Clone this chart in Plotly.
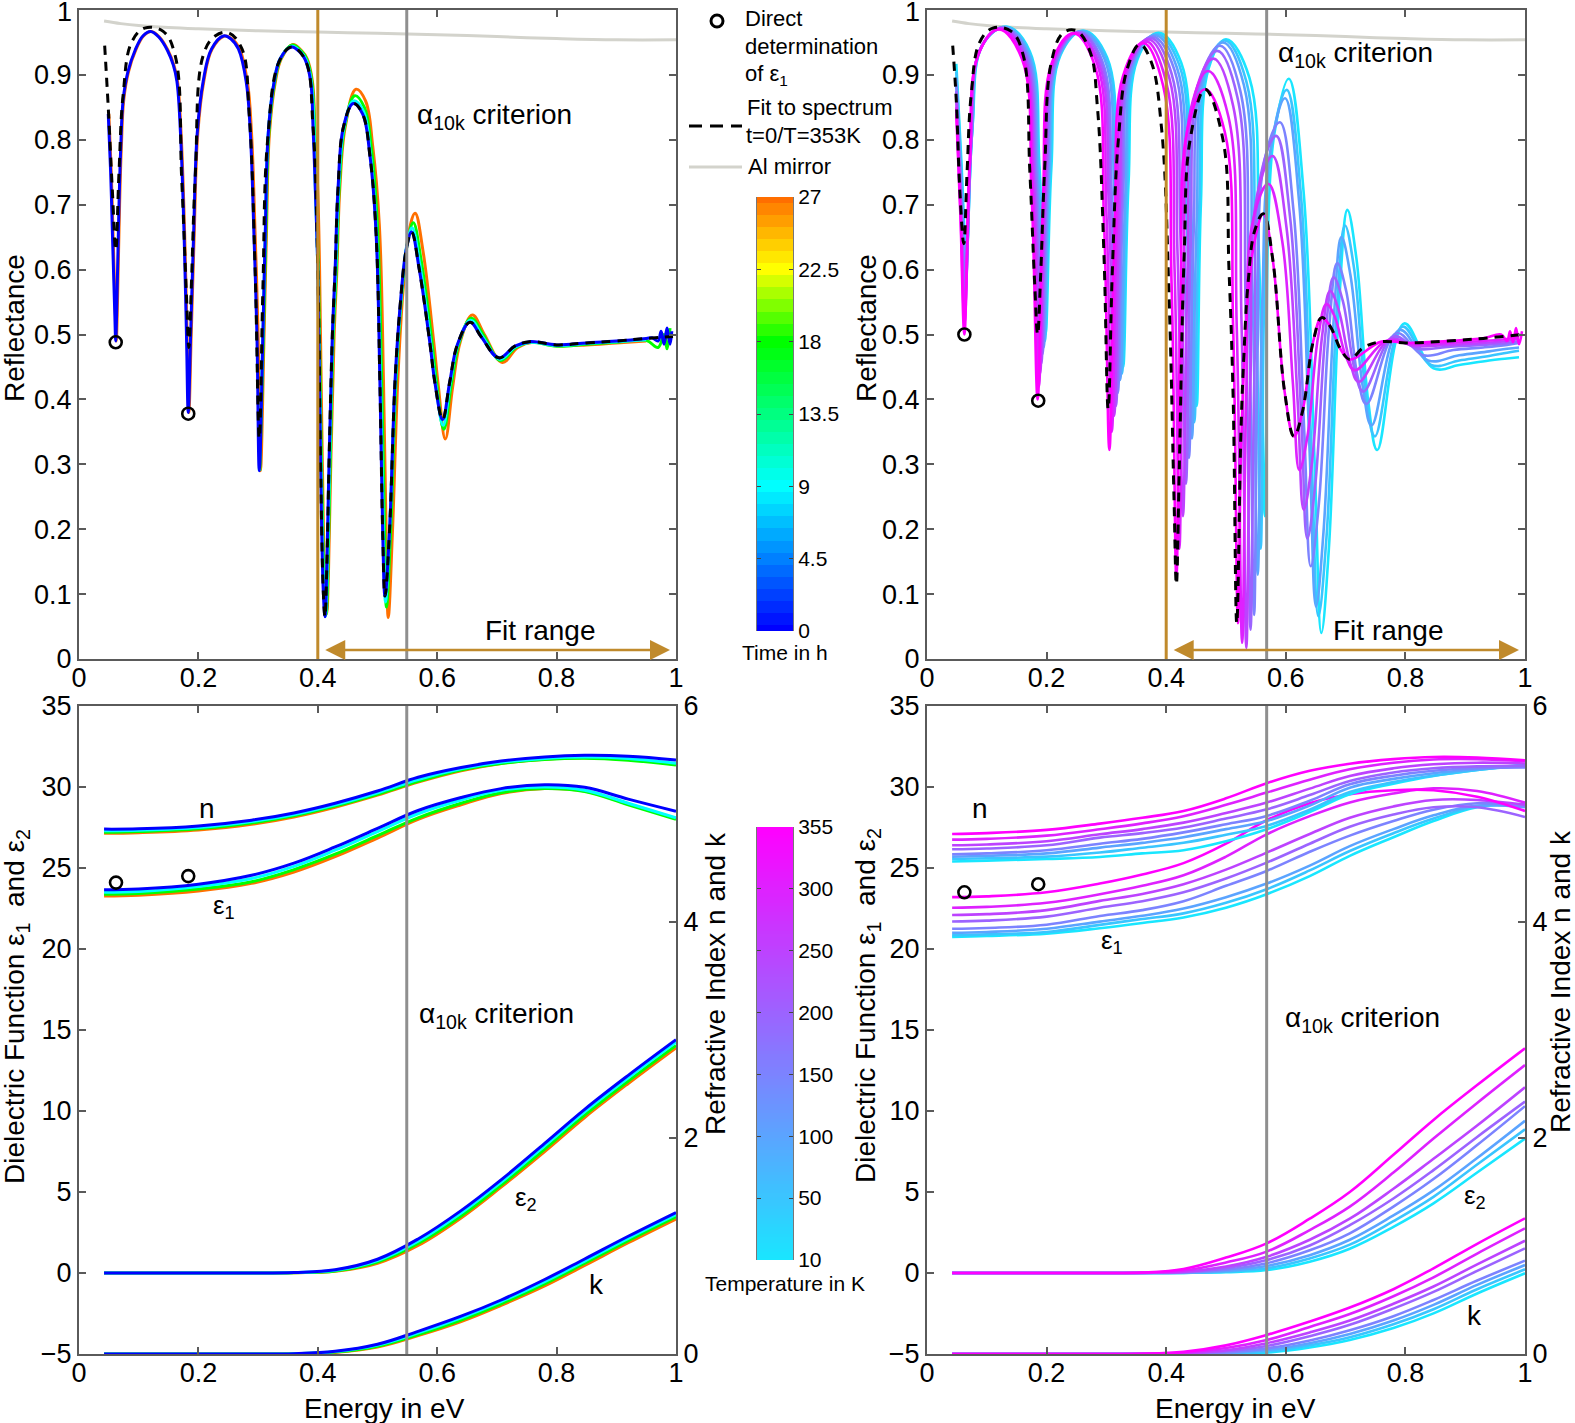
import plotly.graph_objects as go

W, H = 1575, 1423

# --- reflectance vs time (top left), energy in eV
rt_x_0 = [.049,.053,.056,.060,.0615,.063,.067,.070,.074,.082,.094,.107,.120,.134,.148,.158,.164,.170,.176,.180,
          .183,.187,.192,.198,.208,.222,.242,.255,.267,.28,.287,.293,.298,.302,.308,.312,.317,.327,.337,.356,
          .370,.379,.388,.392,.396,.400,.4045,.409,.412,.415,.419,.4244,.429,.434,.443,.4595,.475,.4875,.4975,.504,
          .5087,.5126,.52,.5293,.5377,.548,.557,.57,.588,.596,.609,.621,.634,.655,.674,.7035,.73,.755,.80,.85,
          .90,.95,.96,.97,.975,.98,.985,.99,.993]
rt_y_0 = [.84,.75,.655,.53,.49,.53,.70,.79,.862,.905,.938,.96,.967,.958,.938,.915,.89,.81,.655,.50,
          .38,.50,.655,.81,.89,.94,.96,.955,.94,.89,.81,.655,.50,.29,.50,.655,.81,.89,.925,.943,
          .935,.923,.89,.82,.72,.60,.311,.109,.065,.138,.311,.50,.60,.727,.82,.856,.84,.774,.658,.427,
          .195,.097,.195,.427,.542,.63,.658,.60,.485,.427,.369,.427,.485,.519,.496,.464,.482,.489,.484,.487,
          .49,.494,.495,.49,.505,.485,.51,.485,.505]
rt_x_9 = [.302,.308,.312,.317,.327,.337,.356,.371,.38,.389,.396,.4,.405,.41,.413,.416,.42,.425,.43,.435,
          .444,.46,.476,.488,.498,.505,.51,.5135,.52,.53,.539,.549,.558,.571,.589,.597,.61,.622,.635,.656,
          .675,.705,.731,.756,.80,.85,.90,.95]
rt_y_9 = [.29,.5,.655,.81,.89,.925,.944,.936,.924,.89,.72,.60,.31,.109,.066,.138,.311,.5,.6,.727,
          .82,.86,.845,.778,.66,.43,.19,.088,.195,.427,.548,.637,.664,.607,.487,.426,.36,.426,.486,.522,
          .498,.462,.481,.488,.483,.486,.489,.492]
rt_x_18 = [.303,.309,.313,.318,.328,.338,.357,.372,.381,.39,.397,.401,.406,.411,.414,.417,.421,.426,.431,.436,
           .445,.462,.478,.49,.50,.507,.512,.515,.522,.531,.54,.551,.560,.573,.591,.599,.611,.624,.637,.657,
           .677,.706,.732,.757,.80,.85,.90,.95,.97,.98,.985,.99]
rt_y_18 = [.29,.5,.655,.81,.89,.925,.946,.937,.925,.89,.72,.60,.31,.109,.068,.138,.311,.5,.6,.727,
           .82,.868,.85,.785,.665,.43,.19,.08,.195,.427,.555,.645,.672,.615,.49,.425,.354,.425,.488,.525,
           .50,.46,.48,.488,.482,.485,.488,.491,.48,.50,.478,.51]
rt_x_27 = [.05,.054,.057,.061,.0625,.064,.068,.071,.075,.083,.095,.108,.121,.135,.149,.159,.165,.171,.177,.181,
           .184,.188,.193,.199,.209,.223,.244,.257,.269,.282,.289,.295,.30,.304,.31,.314,.319,.329,.339,.358,
           .373,.382,.391,.395,.40,.403,.4075,.412,.415,.418,.422,.4274,.432,.437,.446,.464,.48,.492,.503,.51,
           .5147,.518,.525,.534,.543,.553,.563,.576,.594,.602,.6136,.626,.639,.659,.679,.709,.735,.76,.80,.85,
           .90,.95]
rt_y_27 = [.84,.75,.655,.53,.49,.53,.70,.79,.862,.905,.938,.96,.967,.958,.938,.915,.89,.81,.655,.50,
           .38,.50,.655,.81,.89,.94,.96,.955,.94,.89,.81,.655,.50,.29,.50,.655,.81,.89,.925,.947,
           .937,.925,.89,.82,.72,.60,.311,.109,.07,.138,.311,.50,.60,.727,.82,.878,.86,.79,.67,.43,
           .18,.064,.195,.43,.57,.66,.687,.63,.49,.42,.339,.42,.49,.53,.50,.457,.48,.488,.483,.484,
           .487,.49]
fit_x_left = [.043,.049,.056,.0615,.067,.074,.088,.11,.141,.161,.172,.180,.184,.188,.195,.208,.228,.25,.273,.285,
              .295,.302,.308,.316,.335,.356,.379,.392,.400,.4045,.409,.412,.415,.419,.4244,.429,.434,.443,.4595,.475,
              .4875,.4975,.504,.5087,.5126,.52,.5293,.5377,.548,.557,.57,.588,.596,.609,.621,.634,.655,.674,.7035,.73,
              .755,.80,.85,.90,.95,.995]
fit_y_left = [.945,.85,.72,.63,.75,.87,.95,.972,.967,.93,.74,.56,.48,.57,.75,.93,.96,.965,.94,.84,
              .6,.34,.57,.8,.92,.943,.923,.82,.6,.31,.109,.065,.138,.311,.5,.6,.727,.82,.856,.84,
              .774,.658,.427,.195,.097,.195,.427,.542,.63,.658,.60,.485,.427,.369,.427,.485,.519,.496,.464,.482,
              .489,.484,.487,.49,.494,.497]

# --- reflectance vs temperature (top right)
rT_x_355 = [.049,.056,.0625,.071,.0855,.120,.159,.175,.185,.194,.209,.245,.281,.296,.305,.314,.328,.362,.395,.409,.417,.424,.436,.465,.498,.512,.520,.526,.537,.548,.5624,.578,.598,.6137,.6276,.646,.66,.674,.693,.7074,.76,.80,.87,.93,.96,.97,.975,.98,.985,.99,.995]
rT_y_355 = [.84,.68,.50,.76,.93,.97,.924,.713,.40,.71,.919,.964,.913,.675,.322,.667,.899,.949,.883,.578,.125,.539,.818,.878,.812,.508,.055,.35,.56,.645,.686,.617,.412,.343,.38,.49,.526,.513,.475,.4615,.489,.487,.49,.494,.50,.49,.505,.488,.51,.485,.505]
rT_x_300 = [.049,.056,.063,.072,.087,.122,.161,.177,.187,.196,.211,.248,.285,.300,.309,.318,.332,.366,.400,.414,.422,.429,.441,.470,.504,.518,.527,.534,.545,.571,.594,.612,.6226,.636,.654,.668,.682,.701,.7157,.768,.81,.87,.93,.97,.99]
rT_y_300 = [.85,.69,.52,.768,.935,.971,.927,.723,.42,.72,.921,.965,.916,.688,.35,.681,.904,.952,.889,.60,.17,.575,.847,.906,.836,.51,.025,.414,.675,.732,.644,.423,.291,.342,.496,.547,.527,.465,.445,.49,.485,.487,.49,.493,.497]
rT_x_250 = [.049,.056,.0635,.0726,.088,.124,.163,.179,.189,.198,.213,.250,.288,.304,.313,.322,.336,.370,.405,.419,.428,.436,.448,.479,.512,.526,.534,.541,.552,.578,.601,.620,.63,.643,.661,.674,.688,.708,.722,.775,.815,.87,.93,.97,.99]
rT_y_250 = [.86,.71,.54,.778,.937,.972,.929,.733,.44,.729,.923,.965,.918,.70,.375,.694,.909,.955,.896,.624,.22,.608,.869,.925,.852,.516,.017,.434,.714,.775,.666,.394,.23,.297,.50,.567,.539,.455,.427,.493,.482,.484,.487,.49,.494]
rT_x_200 = [.049,.056,.064,.0733,.0888,.126,.165,.181,.191,.200,.216,.253,.291,.307,.316,.325,.339,.374,.409,.424,.433,.441,.454,.4855,.519,.533,.541,.548,.558,.584,.607,.626,.636,.649,.667,.68,.695,.715,.7296,.78,.82,.87,.93,.97,.99]
rT_y_200 = [.875,.725,.56,.787,.939,.972,.931,.739,.455,.736,.925,.966,.92,.707,.39,.702,.912,.957,.902,.648,.27,.637,.884,.937,.866,.536,.045,.464,.745,.806,.682,.372,.186,.266,.508,.588,.553,.447,.412,.497,.478,.481,.484,.487,.49]
rT_x_150 = [.049,.056,.0645,.074,.09,.128,.167,.183,.193,.202,.218,.255,.293,.309,.319,.328,.342,.377,.414,.429,.438,.446,.459,.490,.524,.538,.547,.553,.564,.59,.613,.631,.6416,.655,.673,.686,.701,.72,.735,.785,.83,.88,.93,.97,.99]
rT_y_150 = [.885,.74,.58,.796,.942,.973,.933,.747,.47,.743,.926,.966,.922,.716,.41,.712,.915,.959,.907,.667,.31,.659,.894,.945,.875,.55,.068,.485,.766,.827,.69,.348,.143,.236,.517,.61,.567,.436,.393,.502,.468,.476,.48,.484,.487]
rT_x_100 = [.049,.057,.065,.075,.091,.130,.169,.185,.195,.204,.22,.258,.297,.313,.323,.332,.346,.381,.418,.434,.443,.451,.464,.495,.530,.544,.553,.561,.572,.5987,.622,.640,.6505,.663,.681,.693,.708,.729,.7436,.79,.838,.89,.94,.97,.99]
rT_y_100 = [.895,.74,.60,.805,.943,.973,.934,.751,.48,.748,.928,.967,.924,.725,.43,.722,.919,.961,.911,.682,.34,.675,.901,.95,.884,.581,.13,.56,.77,.864,.707,.316,.081,.195,.536,.65,.592,.418,.36,.507,.46,.468,.474,.478,.48]
rT_x_50 = [.049,.057,.0655,.0755,.092,.132,.171,.187,.197,.206,.222,.260,.30,.316,.326,.335,.349,.384,.422,.438,.447,.455,.468,.498,.534,.549,.558,.565,.576,.6015,.6253,.6433,.6544,.668,.686,.699,.714,.734,.749,.795,.843,.89,.94,.97,.99]
rT_y_50 = [.905,.76,.615,.812,.945,.974,.935,.756,.49,.753,.93,.968,.926,.73,.44,.728,.921,.963,.915,.694,.365,.688,.906,.953,.89,.601,.17,.60,.79,.877,.715,.309,.066,.187,.548,.668,.603,.408,.343,.512,.453,.46,.467,.472,.475]
rT_x_10 = [.049,.057,.066,.076,.093,.133,.172,.188,.198,.208,.2235,.2615,.301,.318,.328,.337,.352,.387,.425,.441,.451,.458,.471,.50,.539,.555,.565,.571,.581,.605,.6295,.6485,.6594,.672,.690,.703,.718,.738,.753,.798,.847,.89,.94,.97,.99]
rT_y_10 = [.917,.775,.63,.819,.946,.974,.936,.761,.50,.757,.931,.968,.927,.735,.45,.733,.924,.965,.919,.706,.39,.701,.91,.955,.896,.624,.22,.68,.81,.894,.723,.296,.04,.17,.562,.692,.618,.396,.322,.517,.448,.453,.46,.463,.465]
fit_x_right = [.043,.049,.055,.0615,.067,.074,.088,.11,.141,.161,.172,.180,.185,.19,.197,.208,.228,.25,.273,.285,
               .296,.303,.31,.32,.335,.356,.375,.392,.405,.413,.417,.422,.43,.44,.465,.495,.505,.512,.518,.525,
               .53,.537,.548,.5624,.578,.598,.6137,.6276,.646,.66,.674,.693,.7074,.73,.76,.80,.87,.93,.995]
fit_y_right = [.945,.86,.72,.64,.75,.87,.95,.972,.967,.93,.75,.58,.50,.59,.76,.92,.965,.968,.935,.85,
               .62,.385,.60,.80,.91,.947,.92,.82,.55,.25,.115,.3,.62,.80,.878,.80,.6,.4,.055,.35,
               .47,.58,.66,.686,.617,.412,.343,.38,.49,.526,.513,.475,.4615,.48,.489,.487,.49,.494,.50]

al_x = [.042,.07,.1,.15,.2,.3,.4,.5,.6,.7,.8,.9,1.0]
al_y = [.983,.979,.976,.973,.971,.968,.966,.964,.962,.959,.956,.954,.954]

# --- optical constants, shared energy grid
opt_x = [.042,.1,.2,.289,.36,.429,.5,.568,.64,.707,.78,.847,.92,1.0]

n_t_0 = [4.86,4.863,4.89,4.943,5.01,5.10,5.213,5.34,5.43,5.49,5.528,5.543,5.535,5.50]
n_t_9 = [4.845,4.85,4.875,4.93,4.995,5.085,5.197,5.32,5.418,5.478,5.515,5.528,5.515,5.47]
n_t_18 = [4.83,4.838,4.863,4.917,4.983,5.073,5.183,5.303,5.408,5.468,5.505,5.517,5.498,5.453]
n_t_27 = [4.821,4.827,4.853,4.905,4.973,5.063,5.175,5.295,5.40,5.468,5.508,5.52,5.505,5.46]
e1_t_0 = [23.65,23.7,24.0,24.55,25.3,26.3,27.45,28.55,29.35,29.9,30.14,29.98,29.25,28.5]
e1_t_9 = [23.5,23.55,23.85,24.35,25.1,26.1,27.25,28.35,29.2,29.8,30.0,29.8,29.0,28.1]
e1_t_18 = [23.38,23.42,23.7,24.15,24.9,25.85,27.0,28.1,29.0,29.65,29.9,29.72,28.9,28.0]
e1_t_27 = [23.27,23.32,23.58,24.05,24.75,25.7,26.85,28.0,28.9,29.6,29.9,29.75,28.95,28.05]
e2_t_0 = [0,0,0,0,.03,.2,.85,2.1,3.85,5.75,8.0,10.1,12.2,14.4]
e2_t_9 = [0,0,0,0,.03,.17,.77,1.96,3.7,5.6,7.85,9.95,12.05,14.25]
e2_t_18 = [0,0,0,0,.02,.13,.68,1.82,3.52,5.42,7.65,9.75,11.85,14.05]
e2_t_27 = [0,0,0,0,.02,.1,.6,1.7,3.4,5.3,7.5,9.6,11.7,13.9]
k_t_0 = [0,0,0,0,.003,.025,.09,.21,.35,.50,.69,.88,1.09,1.31]
k_t_9 = [0,0,0,0,.003,.022,.082,.195,.335,.485,.67,.86,1.07,1.29]
k_t_18 = [0,0,0,0,.002,.018,.072,.18,.315,.465,.65,.84,1.05,1.27]
k_t_27 = [0,0,0,0,.002,.015,.065,.17,.30,.45,.63,.82,1.03,1.25]

n_T_355 = [4.815,4.823,4.853,4.911,4.965,5.028,5.145,5.285,5.40,5.466,5.508,5.528,5.523,5.498]
n_T_300 = [4.763,4.77,4.80,4.859,4.913,4.98,5.085,5.198,5.318,5.414,5.475,5.505,5.508,5.49]
n_T_250 = [4.71,4.718,4.748,4.812,4.86,4.92,5.01,5.106,5.235,5.352,5.423,5.46,5.475,5.468]
n_T_200 = [4.673,4.68,4.71,4.781,4.823,4.875,4.958,5.043,5.175,5.306,5.385,5.423,5.441,5.445]
n_T_150 = [4.628,4.635,4.665,4.725,4.77,4.83,4.905,4.982,5.123,5.276,5.355,5.40,5.423,5.43]
n_T_100 = [4.605,4.613,4.635,4.689,4.733,4.785,4.86,4.935,5.078,5.244,5.325,5.378,5.415,5.445]
n_T_50 = [4.583,4.59,4.605,4.643,4.688,4.733,4.808,4.89,5.04,5.204,5.295,5.355,5.408,5.453]
n_T_10 = [4.56,4.568,4.583,4.602,4.635,4.665,4.748,4.859,5.018,5.183,5.28,5.352,5.408,5.46]

e1_T_355 = [23.2,23.25,23.5,24.04,24.6,25.3,26.5,27.95,29.0,29.55,29.8,29.8,29.4,28.52]
e1_T_300 = [22.55,22.6,22.85,23.38,23.9,24.55,25.7,27.08,28.2,29.05,29.6,29.92,29.75,29.03]
e1_T_250 = [22.1,22.15,22.4,22.97,23.4,24.0,24.9,25.95,27.1,28.1,28.8,29.2,29.2,28.9]
e1_T_200 = [21.7,21.75,22.0,22.55,22.95,23.5,24.35,25.33,26.5,27.55,28.3,28.75,28.75,28.15]
e1_T_150 = [21.25,21.3,21.5,22.04,22.4,22.95,23.9,24.82,26.0,27.0,27.9,28.6,29.0,28.8]
e1_T_100 = [21.0,21.05,21.25,21.69,22.05,22.5,23.2,24.04,25.15,26.35,27.4,28.25,28.85,28.75]
e1_T_50 = [20.85,20.9,21.05,21.49,21.85,22.2,22.85,23.69,24.85,26.05,27.15,28.05,28.8,28.85]
e1_T_10 = [20.75,20.8,20.95,21.28,21.6,21.95,22.55,23.38,24.5,25.75,26.9,27.9,28.75,28.95]

e2_T_355 = [0,0,0,0,.03,.25,.95,1.83,3.35,5.0,7.3,9.45,11.6,13.87]
e2_T_300 = [0,0,0,0,.02,.15,.65,1.32,2.65,4.1,6.2,8.3,10.5,12.84]
e2_T_250 = [0,0,0,0,.01,.08,.4,1.0,2.05,3.35,5.2,7.05,9.1,11.46]
e2_T_200 = [0,0,0,0,.01,.05,.3,.8,1.7,2.95,4.6,6.35,8.4,10.58]
e2_T_150 = [0,0,0,0,0,.03,.2,.6,1.4,2.45,4.1,5.8,7.9,10.3]
e2_T_100 = [0,0,0,0,0,.02,.13,.43,1.1,2.05,3.55,5.1,7.1,9.4]
e2_T_50 = [0,0,0,0,0,.01,.08,.29,.9,1.75,3.2,4.7,6.7,8.87]
e2_T_10 = [0,0,0,0,0,.01,.05,.18,.7,1.5,2.85,4.3,6.2,8.3]

k_T_355 = [0,0,0,0,.002,.02,.08,.176,.30,.43,.60,.793,1.02,1.256]
k_T_300 = [0,0,0,0,.001,.012,.055,.13,.25,.37,.535,.71,.93,1.163]
k_T_250 = [0,0,0,0,.001,.007,.035,.10,.20,.31,.465,.625,.83,1.049]
k_T_200 = [0,0,0,0,0,.005,.025,.074,.165,.27,.42,.575,.77,.978]
k_T_150 = [0,0,0,0,0,.003,.015,.052,.125,.22,.35,.50,.68,.864]
k_T_100 = [0,0,0,0,0,.002,.01,.037,.10,.185,.31,.455,.64,.824]
k_T_50 = [0,0,0,0,0,.001,.005,.022,.08,.155,.275,.415,.60,.784]
k_T_10 = [0,0,0,0,0,.001,.003,.012,.06,.13,.24,.376,.56,.747]

# direct determination points
dot_x_tl, dot_y_tl = [.0615, .183], [.488, .378]
dot_x_tr, dot_y_tr = [.0625, .186], [.50, .398]
dot_x_bl, dot_y_bl = [.062, .183], [24.1, 24.5]
dot_x_br, dot_y_br = [.0625, .186], [23.5, 24.0]

# colour bar tick labels
time_ticks = [0, 4.5, 9, 13.5, 18, 22.5, 27]
temp_labels = ["10", "50", "100", "150", "200", "250", "300", "355"]

time_colors = {0: "#0000ff", 9: "#00ffff", 18: "#00ff00", 27: "#ff7000"}
temp_colors = ["#19e6ff", "#3ac5ff", "#5ba4ff", "#7c83ff", "#9c63ff", "#bd42ff", "#de21ff", "#ff00ff"]
jet = [[0, "#0000ff"], [1/3, "#00ffff"], [.5, "#00ff80"], [2/3, "#00ff00"], [5/6, "#ffff00"], [1, "#ff6e00"]]
cool = [[0, "#19e6ff"], [1, "#ff00ff"]]
BROWN = "#c08a2c"
GREY = "#8f8f8f"
AXC = "#5a5a5a"
FONT = "Liberation Sans"

fig = go.Figure()


def curve(x, y, color, xa, ya, width=2.6, dash=None):
    fig.add_trace(go.Scatter(x=x, y=y, mode="lines", showlegend=False, xaxis=xa, yaxis=ya,
                             line=dict(color=color, width=width, dash=dash, shape="spline", smoothing=1.1)))


def dots(x, y, xa, ya):
    fig.add_trace(go.Scatter(x=x, y=y, mode="markers", showlegend=False, xaxis=xa, yaxis=ya,
                             marker=dict(symbol="circle-open", size=12, color="black", line=dict(width=2.6))))


# top left
curve(al_x, al_y, "#d3d3cc", "x", "y", 3)
curve(rt_x_27, rt_y_27, time_colors[27], "x", "y", 3)
curve(rt_x_18, rt_y_18, time_colors[18], "x", "y", 3)
curve(rt_x_9, rt_y_9, time_colors[9], "x", "y", 3)
curve(rt_x_0, rt_y_0, time_colors[0], "x", "y", 3)
curve(fit_x_left, fit_y_left, "black", "x", "y", 3, "9px,7px")
dots(dot_x_tl, dot_y_tl, "x", "y")

# top right, coldest first so 355 K ends on top
curve(al_x, al_y, "#d3d3cc", "x2", "y2", 3)
for i, (cx, cy) in enumerate([(rT_x_10, rT_y_10), (rT_x_50, rT_y_50), (rT_x_100, rT_y_100), (rT_x_150, rT_y_150),
                              (rT_x_200, rT_y_200), (rT_x_250, rT_y_250), (rT_x_300, rT_y_300), (rT_x_355, rT_y_355)]):
    curve(cx, cy, temp_colors[i], "x2", "y2")
curve(fit_x_right, fit_y_right, "black", "x2", "y2", 3, "9px,7px")
dots(dot_x_tr, dot_y_tr, "x2", "y2")

# bottom left
for t, e1, e2 in [(27, e1_t_27, e2_t_27), (18, e1_t_18, e2_t_18), (9, e1_t_9, e2_t_9), (0, e1_t_0, e2_t_0)]:
    curve(opt_x, e1, time_colors[t], "x3", "y3", 3)
    curve(opt_x, e2, time_colors[t], "x3", "y3", 3)
for t, n, k in [(27, n_t_27, k_t_27), (18, n_t_18, k_t_18), (9, n_t_9, k_t_9), (0, n_t_0, k_t_0)]:
    curve(opt_x, n, time_colors[t], "x3", "y5", 3)
    curve(opt_x, k, time_colors[t], "x3", "y5", 3)
dots(dot_x_bl, dot_y_bl, "x3", "y3")

# bottom right
e1_all = [e1_T_10, e1_T_50, e1_T_100, e1_T_150, e1_T_200, e1_T_250, e1_T_300, e1_T_355]
e2_all = [e2_T_10, e2_T_50, e2_T_100, e2_T_150, e2_T_200, e2_T_250, e2_T_300, e2_T_355]
n_all = [n_T_10, n_T_50, n_T_100, n_T_150, n_T_200, n_T_250, n_T_300, n_T_355]
k_all = [k_T_10, k_T_50, k_T_100, k_T_150, k_T_200, k_T_250, k_T_300, k_T_355]
for i in range(8):
    curve(opt_x, e1_all[i], temp_colors[i], "x4", "y4")
    curve(opt_x, e2_all[i], temp_colors[i], "x4", "y4")
    curve(opt_x, n_all[i], temp_colors[i], "x4", "y6")
    curve(opt_x, k_all[i], temp_colors[i], "x4", "y6")
dots(dot_x_br, dot_y_br, "x4", "y4")

# colour bars as heatmaps on their own small axes
time_levels = [i * 0.75 for i in range(37)]
fig.add_trace(go.Heatmap(x=[0], z=[[v] for v in time_levels], y=time_levels, colorscale=jet, zmin=0, zmax=27,
                         showscale=False, hoverinfo="skip", xaxis="x5", yaxis="y7"))
temp_levels = [i * 0.05 for i in range(141)]
fig.add_trace(go.Heatmap(x=[0], z=[[v] for v in temp_levels], y=temp_levels, colorscale=cool, zmin=0, zmax=7,
                         showscale=False, hoverinfo="skip", xaxis="x6", yaxis="y8"))


def xdom(a, b):
    return [a / W, b / W]


def ydom(top, bottom):
    return [1 - bottom / H, 1 - top / H]


base = dict(automargin=False, showgrid=False, zeroline=False, showline=True, linecolor=AXC, linewidth=2, ticks="inside",
            ticklen=7, tickwidth=1.5, tickcolor=AXC, tickfont=dict(family=FONT, size=27, color="black"))
xticks = dict(range=[0, 1], tickvals=[0, .2, .4, .6, .8, 1], ticktext=["0", "0.2", "0.4", "0.6", "0.8", "1"], mirror="ticks",
              ticklabelstandoff=-6)
rticks = dict(range=[0, 1], tickvals=[i / 10 for i in range(11)],
              ticktext=["0", "0.1", "0.2", "0.3", "0.4", "0.5", "0.6", "0.7", "0.8", "0.9", "1"], mirror="ticks")
eticks = dict(range=[-5, 35], tickvals=list(range(-5, 36, 5)), ticktext=["\u22125", "0", "5", "10", "15", "20", "25", "30", "35"])
nticks = dict(range=[0, 6], tickvals=[0, 2, 4, 6], ticktext=["0", "2", "4", "6"])
barfont = dict(family=FONT, size=21, color="black")
bar = dict(automargin=False, showgrid=False, zeroline=False, showline=True, linecolor="#777777", linewidth=1, mirror="ticks", side="right",
           ticks="inside", ticklen=4, tickwidth=1, tickcolor="#444444", tickfont=barfont)
barx = dict(automargin=False, visible=False, showgrid=False, zeroline=False, range=[-.5, .5])

TOP, MID_T, MID_B, BOT = 10, 659, 706, 1354
XL0, XL1, XR0, XR1 = 79, 676, 927, 1525

fig.update_layout(
    width=W, height=H, autosize=False, margin=dict(l=0, r=0, t=0, b=0, pad=0),
    paper_bgcolor="white", plot_bgcolor="white", showlegend=False,
    xaxis=dict(base, **xticks, domain=xdom(XL0, XL1), anchor="y"),
    yaxis=dict(base, **rticks, domain=ydom(TOP, MID_T), anchor="x"),
    xaxis2=dict(base, **xticks, domain=xdom(XR0, XR1), anchor="y2"),
    yaxis2=dict(base, **rticks, domain=ydom(TOP, MID_T), anchor="x2"),
    xaxis3=dict(base, **xticks, domain=xdom(XL0, XL1), anchor="y3"),
    yaxis3=dict(base, **eticks, domain=ydom(MID_B, BOT), anchor="x3"),
    yaxis5=dict(base, **nticks, overlaying="y3", side="right", anchor="x3"),
    xaxis4=dict(base, **xticks, domain=xdom(XR0, XR1), anchor="y4"),
    yaxis4=dict(base, **eticks, domain=ydom(MID_B, BOT), anchor="x4"),
    yaxis6=dict(base, **nticks, overlaying="y4", side="right", anchor="x4"),
    xaxis5=dict(barx, domain=xdom(757, 793), anchor="y7"),
    yaxis7=dict(bar, domain=ydom(197, 631), anchor="x5", range=[0, 27], tickvals=time_ticks,
                ticktext=["0", "4.5", "9", "13.5", "18", "22.5", "27"]),
    xaxis6=dict(barx, domain=xdom(757, 793), anchor="y8"),
    yaxis8=dict(bar, domain=ydom(827, 1260), anchor="x6", range=[0, 7], tickvals=list(range(8)), ticktext=temp_labels),
)

shapes = []
for xa, xv, col in [("x", .4, BROWN), ("x", .549, GREY), ("x2", .4, BROWN), ("x2", .568, GREY),
                    ("x3", .549, GREY), ("x4", .568, GREY)]:
    shapes.append(dict(type="line", xref=xa, yref=xa.replace("x", "y") + " domain", x0=xv, x1=xv, y0=0, y1=1,
                       line=dict(color=col, width=3)))
# legend keys
shapes.append(dict(type="line", xref="paper", yref="paper", x0=689 / W, x1=742 / W, y0=1 - 126 / H, y1=1 - 126 / H,
                   line=dict(color="black", width=3, dash="13px,8px")))
shapes.append(dict(type="line", xref="paper", yref="paper", x0=689 / W, x1=742 / W, y0=1 - 167 / H, y1=1 - 167 / H,
                   line=dict(color="#d3d3cc", width=3)))
shapes.append(dict(type="circle", xref="paper", yref="paper", x0=711 / W, x1=723 / W, y0=1 - 27 / H, y1=1 - 15 / H,
                   line=dict(color="black", width=3)))
fig.update_layout(shapes=shapes)


def label(px, py, text, size=28, xanchor="left", angle=0, color="black"):
    fig.add_annotation(x=px / W, y=1 - py / H, xref="paper", yref="paper", text=text, showarrow=False,
                       xanchor=xanchor, yanchor="middle", textangle=angle, align="left",
                       font=dict(family=FONT, size=size, color=color))


# the top "1" tick labels sit at the page edge, plotly drops them there
label(74, 12, "1", 27, "right")
label(922, 12, "1", 27, "right")

crit = "\u03b1<sub>10k</sub> criterion"
label(415, 117, crit)
label(1276, 55, crit)
label(417, 1015, crit)
label(1283, 1019, crit)
label(483, 630, "Fit range")
label(1331, 630, "Fit range")
label(197, 808, "n")
label(211, 906, "\u03b5<sub>1</sub>", 26)
label(513, 1198, "\u03b5<sub>2</sub>", 26)
label(587, 1284, "k")
label(970, 808, "n")
label(1099, 941, "\u03b5<sub>1</sub>", 26)
label(1462, 1196, "\u03b5<sub>2</sub>", 26)
label(1465, 1315, "k")

label(14, 328, "Reflectance", xanchor="center", angle=-90)
label(866, 328, "Reflectance", xanchor="center", angle=-90)
diel = "Dielectric Function \u03b5<sub>1</sub>  and \u03b5<sub>2</sub>"
label(16, 1007, diel, xanchor="center", angle=-90)
label(868, 1006, diel, xanchor="center", angle=-90)
label(715, 984, "Refractive Index n and k", xanchor="center", angle=-90)
label(1561, 982, "Refractive Index n and k", xanchor="center", angle=-90)
label(384, 1408, "Energy in eV", xanchor="center")
label(1235, 1408, "Energy in eV", xanchor="center")

label(743, 18, "Direct", 22)
label(743, 46, "determination", 22)
label(743, 75, "of \u03b5<sub>1</sub>", 22)
label(745, 108, "Fit to spectrum", 22)
label(744, 136, "t=0/T=353K", 22)
label(746, 167, "Al mirror", 22)
label(785, 652, "Time in h", 21, "center")
label(785, 1283, "Temperature in K", 21, "center")

# fit range arrows
for xa, ya in [("x", "y"), ("x2", "y2")]:
    fig.add_annotation(x=.99, y=.014, ax=.41, ay=.014, xref=xa, yref=ya, axref=xa, ayref=ya, text="", showarrow=True,
                       arrowhead=2, arrowside="end+start", arrowsize=1.6, arrowwidth=2.5, arrowcolor=BROWN)

fig.write_html("out.html", config={"displayModeBar": False}, post_script="document.body.style.margin='0'")
